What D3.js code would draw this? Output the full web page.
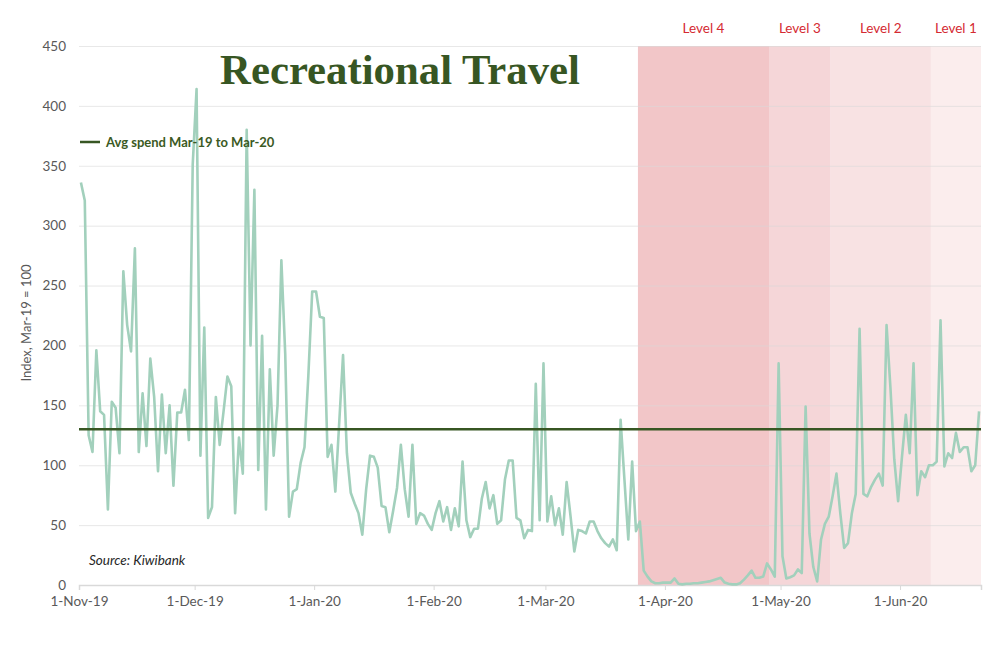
<!DOCTYPE html>
<html><head><meta charset="utf-8">
<script src="https://cdn.jsdelivr.net/npm/d3@7"></script>
<style>body{margin:0;background:#fff}</style>
</head><body><svg id="c" width="1000" height="664"></svg>
<script>
// ---- data ----
const startDate = "2019-11-01";
const novValues = [336,321,125,111,196,145,142,63,153,148,110,262,217,195,281,111,160,116,189,157,95,159,110,150,83,144,144,163,121,351];
const decValues = [414,108,215,56,65,157,117,145,174,166,60,123,93,380,200,330,96,208,63,180,108,150,271,193,57,78,80,102,115,175,245];
const janValues = [245,224,223,107,117,78,135,192,110,77,68,60,42,80,108,107,98,66,65,44,62,81,117,80,57,117,51,60,58,51,46];
const febValues = [60,70,53,65,46,64,49,103,54,40,47,47,72,86,64,75,51,54,88,104,104,56,54,39,46,45,168,54,185];
const marValues = [53,74,50,64,42,86,58,28,46,45,43,53,53,45,39,35,32,38,29,138,88,38,103,45,53,12,7,3,1.5,1.5,2];
const aprValues = [2,2,5.5,1,0.5,1,1,1.5,1.5,2,2.5,3,4,5,6,2,1,0.5,0.5,1.5,4.5,8,12,6,6,7,18,13,7,185];
const mayValues = [24,5.5,6.5,8,13,10,149,43,15,3,38,51,57,74,93,60,31,35,60,76,214,76,74,82,88,93,83,217,165,105,70];
const junValues = [107,142,110,185,75,95,90,100,100,103,221,99,110,106,127,111,115,115,95,100,145];
const avgSpend = 130;
const xTickDates = ["2019-11-01","2019-12-01","2020-01-01","2020-02-01","2020-03-01","2020-04-01","2020-05-01","2020-06-01"];
const yTickValues = [0,50,100,150,200,250,300,350,400,450];
const levelNames = ["Level 4","Level 3","Level 2","Level 1"];
const levelStarts = ["2020-03-25","2020-04-28","2020-05-14","2020-06-09"];
const axisEnd = "2020-06-22";
const levelColors = ["#f2c6c8","#f5d6d8","#f8e2e3","#fbeded"];

// ---- build ----
const parse = d3.timeParse("%Y-%m-%d");
const allValues = [].concat(novValues,decValues,janValues,febValues,marValues,aprValues,mayValues,junValues);
const t0 = parse(startDate);
const series = allValues.map((v,i)=>({date:d3.timeHour.offset(d3.timeDay.offset(t0,i),12), value:v}));

const svg = d3.select("#c");
const L=79, R=981, T=46, B=585;
const x = d3.scaleTime().domain([t0, parse(axisEnd)]).range([L,R]);
const y = d3.scaleLinear().domain([0,450]).range([B,T]);
const font = "Lato, 'Open Sans', sans-serif";

// level shading
const bounds = levelStarts.map(parse).concat([parse(axisEnd)]);
svg.append("g").selectAll("rect").data(levelNames).join("rect")
  .attr("x",(d,i)=>x(bounds[i]))
  .attr("width",(d,i)=>x(bounds[i+1])-x(bounds[i]))
  .attr("y",T).attr("height",B-T)
  .attr("fill",(d,i)=>levelColors[i]);
svg.append("g").selectAll("text").data(levelNames).join("text")
  .attr("x",(d,i)=>(x(bounds[i])+x(bounds[i+1]))/2)
  .attr("y",33).attr("text-anchor","middle")
  .attr("font-family",font).attr("font-size",13.5).attr("fill","#d42a32")
  .text(d=>d);

// grid + y axis
const gy = svg.append("g").attr("transform",`translate(${L},0)`)
  .call(d3.axisLeft(y).tickValues(yTickValues).tickSize(-(R-L)).tickPadding(13).tickFormat(d3.format("d")));
gy.select(".domain").remove();
gy.selectAll(".tick line").attr("stroke","#d9d9d9").attr("stroke-opacity",0.6);
gy.selectAll(".tick text").attr("font-family",font).attr("font-size",13.5).attr("fill","#595959");

// x axis
const gx = svg.append("g").attr("transform",`translate(0,${B})`)
  .call(d3.axisBottom(x).tickValues(xTickDates.map(parse)).tickSize(5).tickPadding(6).tickFormat(d3.timeFormat("%-d-%b-%y")));
gx.select(".domain").attr("stroke","#d9d9d9").attr("stroke-width",1.5);
gx.selectAll(".tick line").attr("stroke","#d9d9d9");
gx.selectAll(".tick text").attr("font-family",font).attr("font-size",13.5).attr("fill","#595959");

// y title
svg.append("text").attr("transform","translate(31,323) rotate(-90)")
  .attr("text-anchor","middle").attr("font-family",font).attr("font-size",13).attr("fill","#595959")
  .text("Index, Mar-19 = 100");

// data line
svg.append("path").datum(series)
  .attr("fill","none").attr("stroke","#a2d0bc").attr("stroke-width",2.6).attr("stroke-linejoin","round")
  .attr("d",d3.line().x(d=>x(d.date)).y(d=>y(d.value)));

// average line
svg.append("line").attr("x1",L).attr("x2",R).attr("y1",y(avgSpend)).attr("y2",y(avgSpend))
  .attr("stroke","#375623").attr("stroke-width",2.5);

// legend
svg.append("line").attr("x1",80).attr("x2",100).attr("y1",142).attr("y2",142).attr("stroke","#375623").attr("stroke-width",2.5);
svg.append("text").attr("x",106).attr("y",146.5).attr("font-family",font).attr("font-weight","bold")
  .attr("font-size",13).attr("fill","#3b5a24").text("Avg spend Mar-19 to Mar-20");

// title
const title = svg.append("text").attr("x",400).attr("y",84).attr("text-anchor","middle")
  .attr("font-family","'Liberation Serif', 'DejaVu Serif', serif").attr("font-weight","bold")
  .attr("font-size",40).attr("fill","#375623").text("Recreational Travel");
const tw = title.node().getComputedTextLength();
title.attr("font-size", 40*360/tw);

// source
svg.append("text").attr("x",89).attr("y",565).attr("font-family",font).attr("font-style","italic")
  .attr("font-size",13.5).attr("fill","#262626").text("Source: Kiwibank");
</script></body></html>
